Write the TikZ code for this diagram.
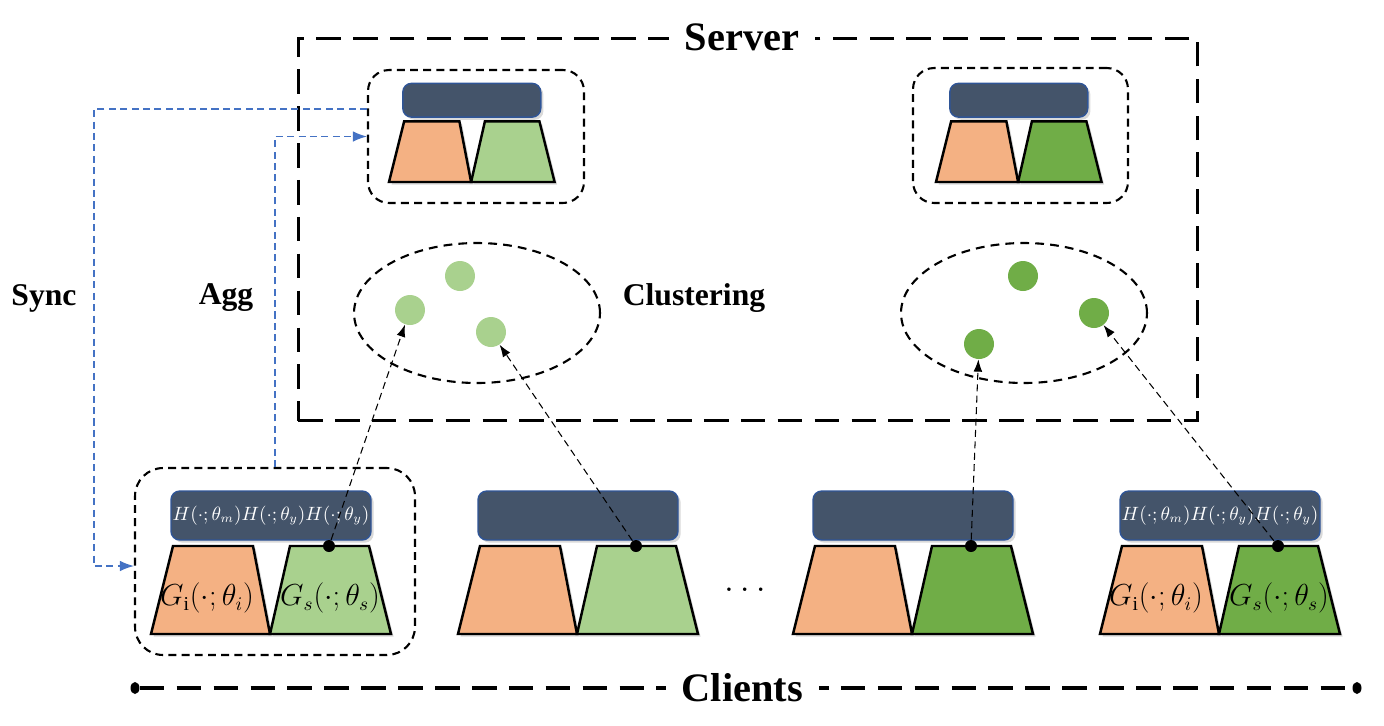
\documentclass[tikz,border=0pt]{standalone}
\usepackage{fontspec}
\setmainfont{Liberation Serif}
\usetikzlibrary{shapes.geometric,arrows.meta,shadows}

\definecolor{orng}{HTML}{F4B183}
\definecolor{lgreen}{HTML}{A9D18E}
\definecolor{dgreen}{HTML}{70AD47}
\definecolor{barfill}{HTML}{44546A}
\definecolor{barline}{HTML}{2F5597}
\definecolor{linkblue}{HTML}{4472C4}

\tikzset{
  trap/.style={draw=black, line width=1.4pt, line join=miter,
    drop shadow={shadow xshift=1.5pt, shadow yshift=-1.5pt, opacity=.3}},
  bar/.style={draw=barline, fill=barfill, line width=0.8pt, rounded corners=5pt,
    drop shadow={shadow xshift=1.5pt, shadow yshift=-1.5pt, opacity=.3}},
  % one local model: shared head on top, two generators below
  pics/module/.style={code={
    \filldraw[trap, fill=orng] (0,0) -- (119,0) -- (102,-88) -- (22,-88) -- cycle;
    \filldraw[trap, fill=#1] (119,0) -- (240,0) -- (218,-88) -- (139,-88) -- cycle;
    \filldraw[bar] (20,-94) rectangle (220,-143);
    \coordinate (-barc) at (120,-118.5);
    \coordinate (-gi) at (56,-36);
    \coordinate (-gs) at (179,-36);
    \coordinate (-tap) at (178,-88);
  }},
  group/.style={draw, line width=1.2pt, dash pattern=on 4.5pt off 3pt, rounded corners=12pt},
  cluster/.style={draw, ellipse, line width=1.2pt, dash pattern=on 5pt off 3.5pt,
    minimum width=4.92cm, minimum height=2.8cm},
  lgdot/.style={circle, fill=lgreen, minimum size=0.6cm, inner sep=0},
  dgdot/.style={circle, fill=dgreen, minimum size=0.6cm, inner sep=0},
  featdot/.style={circle, fill=black, minimum size=0.24cm, inner sep=0},
  enddot/.style={ellipse, fill=black, minimum width=0.18cm, minimum height=0.24cm, inner sep=0},
  feat/.style={line width=0.6pt, dash pattern=on 4pt off 2.5pt, -{Latex[length=7pt,width=5pt]}},
  link/.style={draw=linkblue, line width=0.8pt, dash pattern=on 4pt off 2.5pt,
    -{Latex[length=8pt,width=6pt]}},
  title/.style={font=\fontsize{23}{26}\selectfont\bfseries, fill=white, inner xsep=9pt, inner ysep=3pt},
  lbl/.style={font=\fontsize{18}{20}\selectfont\bfseries},
  glbl/.style={font=\fontsize{16}{18}\selectfont},
  hlbl/.style={text=white, font=\fontsize{10.5}{12}\selectfont},
}

\begin{document}
\begin{tikzpicture}[x=0.02cm, y=-0.02cm]
\useasboundingbox (0,0) rectangle (1384,725);

% server side
\node[draw, line width=1.7pt, dash pattern=on 14pt off 7pt, minimum width=18cm,
  minimum height=7.66cm, inner sep=0] (server) at (748,229.5) {};
\node[title] (servertitle) at (742,37) {Server};

\node[group, minimum width=4.32cm, minimum height=2.66cm] (s1box) at (476,136.5) {};
\node[group, minimum width=4.3cm, minimum height=2.7cm] (s2box) at (1020.5,135.5) {};
\pic[scale=0.69] (s1) at (389,182) {module=lgreen};
\pic[scale=0.69] (s2) at (936,182) {module=dgreen};

\node[cluster] (cl1) at (477,313) {};
\node[cluster] (cl2) at (1024,313) {};
\node[lgdot] (p1) at (460,276) {};
\node[lgdot] (p2) at (410,310) {};
\node[lgdot] (p3) at (491,332) {};
\node[dgdot] (q1) at (1023,276) {};
\node[dgdot] (q2) at (1094,313) {};
\node[dgdot] (q3) at (979,344) {};
\node[lbl] (clustering) at (694,298) {Clustering};

% client side
\node[group, rounded corners=16pt, minimum width=5.6cm, minimum height=3.74cm] (c1box) at (275,561.5) {};
\pic (c1) at (151,634) {module=lgreen};
\pic (c2) at (458,634) {module=lgreen};
\pic (c3) at (793,634) {module=dgreen};
\pic (c4) at (1100,634) {module=dgreen};

\node[hlbl] at (c1-barc) {$H(\cdot;\theta_m)H(\cdot;\theta_y)H(\cdot;\theta_y)$};
\node[hlbl] at (c4-barc) {$H(\cdot;\theta_m)H(\cdot;\theta_y)H(\cdot;\theta_y)$};
\node[glbl] at (c1-gi) {$G_{\mathrm{i}}(\cdot;\theta_i)$};
\node[glbl] at (c1-gs) {$G_s(\cdot;\theta_s)$};
\node[glbl] at (c4-gi) {$G_{\mathrm{i}}(\cdot;\theta_i)$};
\node[glbl] at (c4-gs) {$G_s(\cdot;\theta_s)$};
\node[font=\fontsize{20}{20}\selectfont] (dots) at (745,590) {$\ldots$};

\node[featdot] (d1) at (c1-tap) {};
\node[featdot] (d2) at (c2-tap) {};
\node[featdot] (d3) at (c3-tap) {};
\node[featdot] (d4) at (c4-tap) {};

% uploads to the clusters
\draw[feat] (d1) -- (p2);
\draw[feat] (d2) -- (p3);
\draw[feat] (d3) -- (q3);
\draw[feat] (d4) -- (q2);

% sync / agg links
\coordinate (synccorner) at (94,300);
\draw[link] ([yshift=0.55cm]s1box.west) -| (synccorner) |- ([yshift=-0.09cm]c1box.west);
\draw[link] (c1box.north) |- (s1box.west);
\node[lbl] (sync) at (44,298) {Sync};
\node[lbl] (agg) at (226,298) {Agg};

% clients axis
\node[enddot] (cl-l) at (135,688) {};
\node[enddot] (cl-r) at (1357,688) {};
\draw[line width=2pt, dash pattern=on 14pt off 7pt] (cl-l) -- node[title, pos=0.497] (clients) {Clients} (cl-r);
\end{tikzpicture}
\end{document}
